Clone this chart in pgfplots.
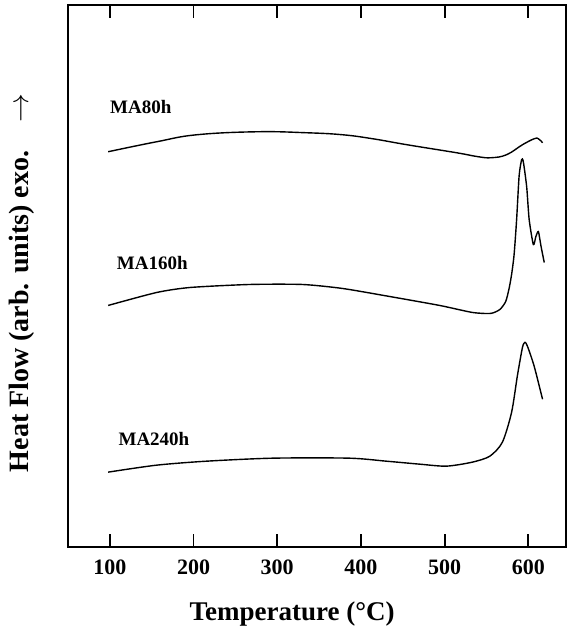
\documentclass[border=0pt]{standalone}
\usepackage{fontspec}
\setmainfont{Liberation Serif}
\usepackage{pgfplots}
\pgfplotsset{compat=1.18}

% DSC traces, temperature (C) vs heat flow (arb. units)
\pgfplotstableread{
T v
98 396
156 406
204 413
276 416
335 415
378 413
414 409
455 403
514 395
540 391
556 390
574 393
593 403
607 409
612 409
617 405
}\maeighty
\pgfplotstableread{
T v
98 242
156 255
196 260
267 263
330 263
378 259
434 251
494 242
533 235
555 234
566 238
573 246
577 259
580 273
583 293
586 328
589 372
592 388
594 386
598 361
601 328
606 303
609 311
612 316
615 302
619 285
}\maonesixty
\pgfplotstableread{
T v
98 75
156 82
216 86
295 89
386 89
430 86
470 83
502 81
533 85
554 91
569 105
580 135
587 172
593 200
596 205
599 201
607 181
617 148
}\matwoforty

\begin{document}
\begin{tikzpicture}
\begin{axis}[
  scale only axis,
  width=249pt, height=271pt,
  xmin=50, xmax=645, ymin=0, ymax=543,
  xtick={100,200,...,600},
  ytick=\empty,
  xtick pos=both,
  tick align=inside,
  major tick length=6.5pt,
  axis line style={line width=0.9pt},
  every tick/.style={black, line width=0.9pt},
  /pgf/number format/assume math mode=true,
  xticklabel style={font=\fontsize{11}{13}\selectfont\bfseries, yshift=-3pt},
  xlabel={Temperature (°C)},
  xlabel style={at={(axis description cs:0.45,-0.0886)}, anchor=north,
    font=\fontsize{13.5}{16}\selectfont\bfseries},
  ylabel={Heat Flow (arb. units) exo.\quad$\rightarrow$},
  ylabel style={at={(axis description cs:-0.054,0.487)}, anchor=south,
    font=\fontsize{14}{16}\selectfont\bfseries},
  clip=false,
]
\addplot[black, line width=0.7pt, smooth, tension=0.7] table[x=T, y=v] {\maeighty};
\addplot[black, line width=0.7pt, smooth, tension=0.4] table[x=T, y=v] {\maonesixty};
\addplot[black, line width=0.7pt, smooth, tension=0.45] table[x=T, y=v] {\matwoforty};

\begin{scope}[every node/.style={anchor=west, font=\fontsize{9.5}{11}\selectfont\bfseries}]
\node at (axis cs:92,441) {MA80h};
\node at (axis cs:100,285) {MA160h};
\node at (axis cs:102,108) {MA240h};
\end{scope}

\coordinate (sw) at (rel axis cs:0,0);
\coordinate (ne) at (rel axis cs:1,1);
\end{axis}
\pgfresetboundingbox
\path[use as bounding box] ([shift={(-34pt,-39.5pt)}]sw) rectangle ([shift={(1pt,2.5pt)}]ne);
\end{tikzpicture}
\end{document}
